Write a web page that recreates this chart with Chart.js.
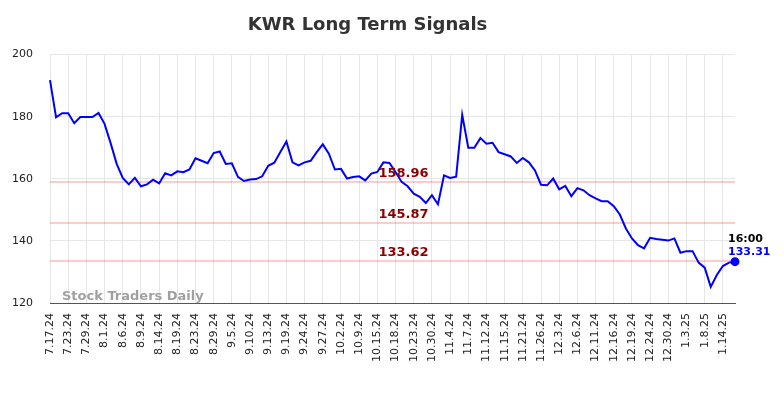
<!DOCTYPE html>
<html>
<head>
<meta charset="utf-8">
<script src="https://cdn.jsdelivr.net/npm/chart.js@4"></script>
<style>
html,body{margin:0;padding:0;background:#fff;}
#wrap{width:784px;height:398px;position:relative;}
</style>
</head>
<body>
<div id="wrap"><canvas id="chart"></canvas></div>
<script>
// tick labels shown on the x axis, one every 3 trading days
const tickLabels = ['7.17.24','7.23.24','7.29.24','8.1.24','8.6.24','8.9.24','8.14.24','8.19.24','8.23.24','8.29.24',
  '9.5.24','9.10.24','9.13.24','9.19.24','9.24.24','9.27.24','10.2.24','10.9.24','10.15.24','10.18.24',
  '10.23.24','10.30.24','11.4.24','11.7.24','11.12.24','11.15.24','11.21.24','11.26.24','12.3.24','12.6.24',
  '12.11.24','12.16.24','12.19.24','12.24.24','12.30.24','1.3.25','1.8.25','1.14.25'];

// daily closes
const closes = [191.8,179.8,181.1,181.1,177.9,179.9,179.9,179.9,181.2,177.7,
  171.5,164.8,160.3,158.2,160.3,157.6,158.2,159.7,158.5,161.8,
  161.1,162.4,162.1,163.0,166.6,165.8,165.0,168.3,168.8,164.8,
  165.0,160.6,159.3,159.8,159.9,160.8,164.2,165.2,168.6,172.0,
  165.3,164.3,165.3,165.8,168.6,171.1,168.1,163.0,163.2,160.1,
  160.6,160.8,159.5,161.7,162.2,165.3,165.1,162.2,159.0,157.6,
  155.2,154.2,152.2,154.7,151.8,161.1,160.3,160.7,180.6,170.0,
  170.0,173.1,171.3,171.6,168.6,167.9,167.2,165.1,166.7,165.3,
  162.7,158.1,157.9,160.1,156.6,157.7,154.4,157.0,156.3,154.7,
  153.7,152.8,152.8,151.2,148.5,144.0,140.8,138.6,137.6,141.0,
  140.6,140.4,140.1,140.8,136.2,136.7,136.7,133.0,131.4,125.2,
  129.0,131.9,133.0,133.31];

const signalLevels = [158.96, 145.87, 133.62];
const lastTime = '16:00';
const yMin = 120, yMax = 200, yStep = 20;

const labels = closes.map((_, i) => i % 3 === 0 ? tickLabels[i / 3] : '');
const lastIdx = closes.length - 1;

const overlay = {
  id: 'overlay',
  beforeDatasetsDraw(chart){
    const {ctx, chartArea:a, scales:{y}} = chart;
    ctx.save();
    ctx.strokeStyle = 'rgba(255,0,0,0.2)';
    ctx.lineWidth = 2;
    signalLevels.forEach(v=>{
      const py = Math.round(y.getPixelForValue(v));
      ctx.beginPath(); ctx.moveTo(a.left, py); ctx.lineTo(a.right, py); ctx.stroke();
    });
    ctx.restore();
  },
  afterDatasetsDraw(chart){
    const {ctx, chartArea:a, scales:{x,y}} = chart;
    ctx.save();
    // level labels
    ctx.font = 'bold 13px "DejaVu Sans"';
    ctx.fillStyle = '#8b0000';
    ctx.textAlign = 'center';
    ctx.textBaseline = 'middle';
    const cx = a.left + (a.right - a.left) * 0.516;
    signalLevels.forEach(v=>{
      ctx.fillText(v.toFixed(2), cx, y.getPixelForValue(v) - 8);
    });
    // watermark
    ctx.font = 'bold 13px "DejaVu Sans"';
    ctx.fillStyle = '#a0a0a0';
    ctx.textAlign = 'left';
    ctx.textBaseline = 'alphabetic';
    ctx.fillText('Stock Traders Daily', a.left + 12, a.bottom - 3);
    // last value
    const px = x.getPixelForValue(lastIdx), py = y.getPixelForValue(closes[lastIdx]);
    ctx.font = 'bold 11px "DejaVu Sans"';
    ctx.textBaseline = 'middle';
    ctx.fillStyle = '#000';
    ctx.fillText(lastTime, px - 7, py - 23);
    ctx.fillStyle = '#0000ff';
    ctx.fillText(closes[lastIdx].toFixed(2), px - 7, py - 10);
    ctx.restore();
  }
};

new Chart(document.getElementById('chart'), {
  type: 'line',
  data: {
    labels: labels,
    datasets: [{
      data: closes,
      borderColor: '#0000ff',
      backgroundColor: '#0000ff',
      borderWidth: 2,
      tension: 0,
      pointRadius: c => c.dataIndex === lastIdx ? 3.5 : 0,
      pointHoverRadius: 0
    }]
  },
  options: {
    responsive: true,
    maintainAspectRatio: false,
    animation: false,
    layout: {padding: {left: 0, right: 49, top: 0, bottom: 0}},
    plugins: {
      legend: {display: false},
      tooltip: {enabled: false},
      title: {
        display: true,
        text: 'KWR Long Term Signals',
        color: '#333',
        font: {family: '"DejaVu Sans"', size: 18, weight: 'bold'},
        padding: {top: 15, bottom: 18}
      }
    },
    scales: {
      x: {
        grid: {color: '#e6e6e6', drawTicks: false},
        border: {color: '#555', width: 1},
        ticks: {
          autoSkip: false, minRotation: 90, maxRotation: 90, padding: 10,
          color: '#222', font: {family: '"DejaVu Sans"', size: 11},
          callback: (v, i) => labels[i] || null
        },
        afterFit: s => { s.height = 95; }
      },
      y: {
        min: yMin, max: yMax,
        grid: {color: '#e6e6e6', drawTicks: false},
        border: {display: false},
        ticks: {stepSize: yStep, padding: 17, color: '#222', font: {family: '"DejaVu Sans"', size: 11}},
        afterFit: s => { s.width = 50; }
      }
    }
  },
  plugins: [overlay]
});
</script>
</body>
</html>
